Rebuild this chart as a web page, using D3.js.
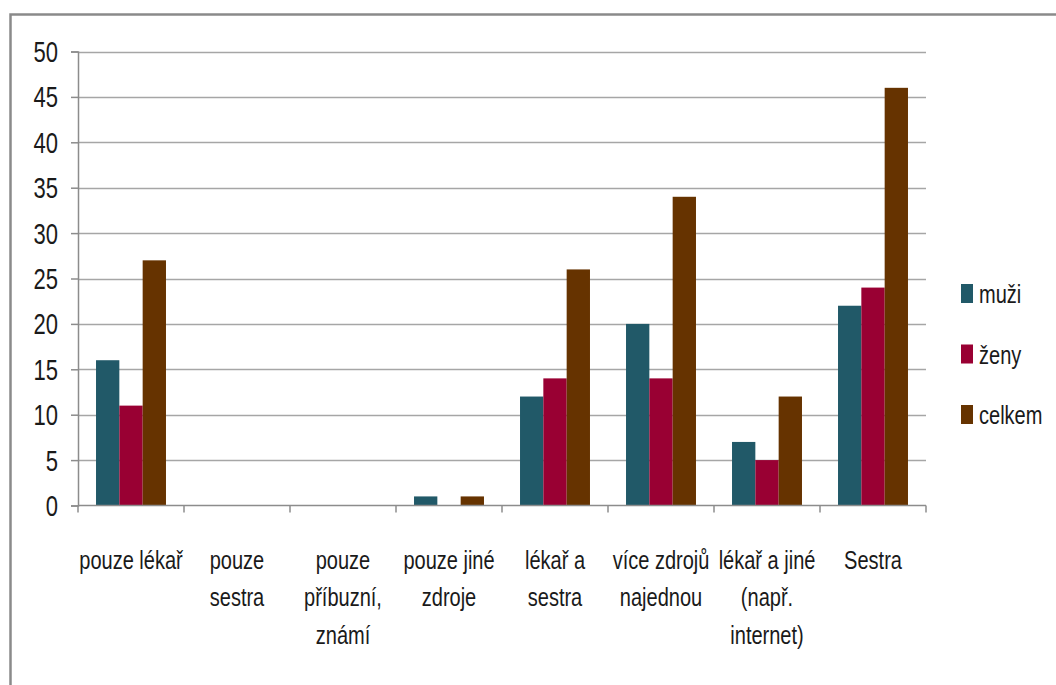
<!DOCTYPE html>
<html>
<head>
<meta charset="utf-8">
<script src="https://cdn.jsdelivr.net/npm/d3@7"></script>
<style>
  html, body { margin: 0; padding: 0; background: #fff; }
  svg { display: block; }
  text { font-family: "Liberation Sans", Arial, sans-serif; fill: #1a1a1a; }
</style>
</head>
<body>
<svg id="chart" width="1056" height="685"></svg>
<script>
// Categories (line breaks mark where axis labels wrap)
const categories = [
  "pouze lékař",
  "pouze\nsestra",
  "pouze\npříbuzní,\nznámí",
  "pouze jiné\nzdroje",
  "lékař a\nsestra",
  "více zdrojů\nnajednou",
  "lékař a jiné\n(např.\ninternet)",
  "Sestra"
];
const seriesNames = ["muži", "ženy", "celkem"];
const muzi   = [16, 0, 0, 1, 12, 20, 7, 22];
const zeny   = [11, 0, 0, 0, 14, 14, 5, 24];
const celkem = [27, 0, 0, 1, 26, 34, 12, 46];
const yTicks = [0, 5, 10, 15, 20, 25, 30, 35, 40, 45, 50];
const colors = ["#215968", "#990033", "#663300"];

const seriesValues = [muzi, zeny, celkem];
const rows = categories.map((c, i) => ({
  cat: c,
  vals: seriesNames.map((s, k) => ({ key: s, value: seriesValues[k][i] }))
}));

// condensed look for all text
const SX = 0.77;
const LABEL_SIZE = 26;

const svg = d3.select("#chart");

// outer chart frame
svg.append("path")
  .attr("d", "M10.5,685 V14.5 H1056")
  .attr("fill", "none")
  .attr("stroke", "#8a8a8a")
  .attr("stroke-width", 2.5);

const plot = { left: 78, right: 926, top: 51.5, bottom: 505.5 };

const x = d3.scaleBand()
  .domain(categories)
  .range([plot.left, plot.right])
  .paddingInner(0.34)
  .paddingOuter(0.17);
const xs = d3.scaleBand()
  .domain(seriesNames)
  .range([0, x.bandwidth()]);
const y = d3.scaleLinear()
  .domain([0, 50])
  .range([plot.bottom, plot.top]);

// horizontal gridlines
svg.append("g")
  .selectAll("line")
  .data(yTicks.filter(t => t > 0))
  .join("line")
  .attr("x1", plot.left)
  .attr("x2", plot.right)
  .attr("y1", d => Math.round(y(d)) + 0.5)
  .attr("y2", d => Math.round(y(d)) + 0.5)
  .attr("stroke", "#a6a6a6")
  .attr("stroke-width", 1.5);

// bars
svg.append("g")
  .selectAll("g")
  .data(rows)
  .join("g")
  .attr("transform", d => `translate(${x(d.cat)},0)`)
  .selectAll("rect")
  .data(d => d.vals)
  .join("rect")
  .attr("x", d => xs(d.key))
  .attr("width", xs.bandwidth())
  .attr("y", d => y(d.value))
  .attr("height", d => y(0) - y(d.value))
  .attr("fill", (d, i) => colors[i]);

// y axis (ticks and line; labels drawn separately with condensed scaling)
const yAxis = svg.append("g")
  .attr("transform", `translate(${plot.left},0)`)
  .call(d3.axisLeft(y).tickValues(yTicks).tickSize(7).tickFormat(""));
yAxis.select(".domain").attr("stroke", "#8c8c8c").attr("stroke-width", 1.5);
yAxis.selectAll(".tick line").attr("stroke", "#8c8c8c").attr("stroke-width", 1.5);

svg.append("g")
  .selectAll("g")
  .data(yTicks)
  .join("g")
  .attr("transform", d => `translate(58,${y(d)}) scale(0.76,1)`)
  .append("text")
  .attr("text-anchor", "end")
  .attr("dy", "0.36em")
  .attr("font-size", 29)
  .text(d => d);

// x axis with category dividers
const xAxisG = svg.append("g")
  .attr("transform", `translate(0,${plot.bottom})`);
xAxisG.append("line")
  .attr("x1", plot.left).attr("x2", plot.right)
  .attr("stroke", "#8c8c8c").attr("stroke-width", 1.5);
const dividers = d3.range(categories.length + 1).map(i => plot.left + i * (plot.right - plot.left) / categories.length);
xAxisG.selectAll("line.div")
  .data(dividers)
  .join("line")
  .attr("class", "div")
  .attr("x1", d => d).attr("x2", d => d)
  .attr("y1", 0).attr("y2", 7)
  .attr("stroke", "#8c8c8c").attr("stroke-width", 1.5);

// category labels
const labels = svg.append("g")
  .selectAll("g")
  .data(categories)
  .join("g")
  .attr("transform", d => `translate(${x(d) + x.bandwidth() / 2},569) scale(${SX},1)`)
  .append("text")
  .attr("text-anchor", "middle")
  .attr("font-size", LABEL_SIZE);
labels.selectAll("tspan")
  .data(d => d.split("\n"))
  .join("tspan")
  .attr("x", 0)
  .attr("dy", (d, i) => i === 0 ? 0 : 37.5)
  .text(d => d);

// legend
const legend = svg.append("g")
  .selectAll("g")
  .data(seriesNames)
  .join("g")
  .attr("transform", (d, i) => `translate(961,${284 + i * 60.5})`);
legend.append("rect")
  .attr("width", 12)
  .attr("height", 19)
  .attr("fill", (d, i) => colors[i]);
legend.append("g")
  .attr("transform", `translate(18,19) scale(${SX},1)`)
  .append("text")
  .attr("font-size", LABEL_SIZE)
  .text(d => d);
</script>
</body>
</html>
